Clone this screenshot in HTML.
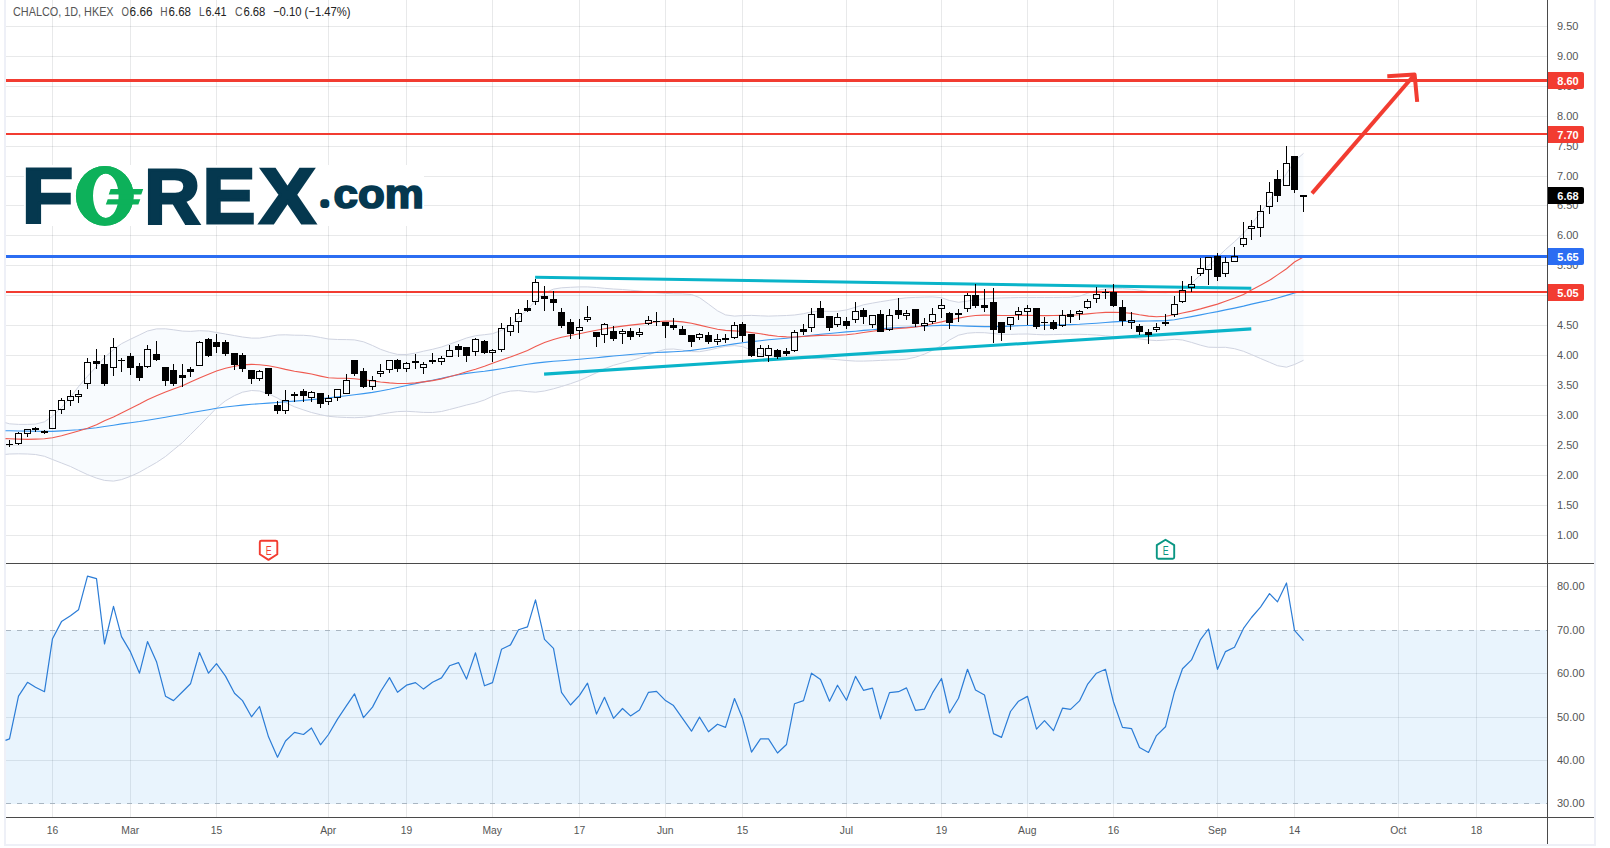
<!DOCTYPE html>
<html lang="en"><head><meta charset="utf-8"><title>CHALCO, 1D, HKEX</title>
<style>html,body{margin:0;padding:0;background:#fff}body{width:1610px;height:848px;overflow:hidden;font-family:"Liberation Sans", sans-serif}svg{display:block}</style>
</head><body>
<svg width="1610" height="848" viewBox="0 0 1610 848" font-family='"Liberation Sans", sans-serif'>
<rect width="1610" height="848" fill="#fff"/>
<g fill="#eef0f7"><rect x="4" y="0" width="2" height="846"/><rect x="1594" y="0" width="2" height="846"/><rect x="4" y="844" width="1592" height="2"/></g>
<g fill="#202530" fill-opacity="0.1" shape-rendering="crispEdges"><rect x="52" y="0" width="1" height="817"/><rect x="130" y="0" width="1" height="817"/><rect x="216" y="0" width="1" height="817"/><rect x="328" y="0" width="1" height="817"/><rect x="406" y="0" width="1" height="817"/><rect x="492" y="0" width="1" height="817"/><rect x="579" y="0" width="1" height="817"/><rect x="665" y="0" width="1" height="817"/><rect x="742" y="0" width="1" height="817"/><rect x="846" y="0" width="1" height="817"/><rect x="941" y="0" width="1" height="817"/><rect x="1027" y="0" width="1" height="817"/><rect x="1113" y="0" width="1" height="817"/><rect x="1217" y="0" width="1" height="817"/><rect x="1294" y="0" width="1" height="817"/><rect x="1398" y="0" width="1" height="817"/><rect x="1476" y="0" width="1" height="817"/><rect x="6" y="26" width="1541" height="1"/><rect x="6" y="56" width="1541" height="1"/><rect x="6" y="86" width="1541" height="1"/><rect x="6" y="116" width="1541" height="1"/><rect x="6" y="146" width="1541" height="1"/><rect x="6" y="176" width="1541" height="1"/><rect x="6" y="205" width="1541" height="1"/><rect x="6" y="235" width="1541" height="1"/><rect x="6" y="265" width="1541" height="1"/><rect x="6" y="295" width="1541" height="1"/><rect x="6" y="325" width="1541" height="1"/><rect x="6" y="355" width="1541" height="1"/><rect x="6" y="385" width="1541" height="1"/><rect x="6" y="415" width="1541" height="1"/><rect x="6" y="445" width="1541" height="1"/><rect x="6" y="475" width="1541" height="1"/><rect x="6" y="505" width="1541" height="1"/><rect x="6" y="535" width="1541" height="1"/><rect x="6" y="586" width="1541" height="1"/><rect x="6" y="673" width="1541" height="1"/><rect x="6" y="717" width="1541" height="1"/><rect x="6" y="760" width="1541" height="1"/></g>
<rect x="6" y="630" width="1541" height="174" fill="#1987eb" fill-opacity="0.095"/>
<line x1="6" x2="1547" y1="630.5" y2="630.5" stroke="#a9b6c2" stroke-width="1" stroke-dasharray="5 6" shape-rendering="crispEdges"/>
<line x1="6" x2="1547" y1="803.5" y2="803.5" stroke="#a9b6c2" stroke-width="1" stroke-dasharray="5 6" shape-rendering="crispEdges"/>
<polygon points="5.5,422.7 9.5,423.8 18.5,424.4 27.5,424.4 35.5,424.1 44.5,421.8 52.5,416.2 61.5,407.6 70.5,397.2 78.5,386.6 87.5,376.3 96.5,366.5 104.5,357.5 113.5,349.7 121.5,343.7 130.5,339.2 139.5,334.9 147.5,331.0 156.5,328.9 165.5,328.8 173.5,329.8 182.5,331.1 190.5,331.4 199.5,330.7 208.5,331.1 216.5,332.5 225.5,334.0 234.5,335.6 242.5,337.0 251.5,338.1 259.5,338.1 268.5,336.6 277.5,335.0 285.5,334.8 294.5,335.2 303.5,335.3 311.5,335.9 320.5,337.5 328.5,339.0 337.5,339.5 346.5,339.6 354.5,339.9 363.5,341.8 372.5,345.5 380.5,349.3 389.5,352.4 397.5,354.4 406.5,354.5 415.5,353.1 423.5,351.2 432.5,349.3 441.5,347.0 449.5,344.2 458.5,341.0 466.5,338.0 475.5,335.7 484.5,334.7 492.5,333.7 501.5,330.4 510.5,324.9 518.5,318.0 527.5,309.6 535.5,300.5 544.5,293.0 553.5,289.1 561.5,287.8 570.5,287.3 579.5,286.9 587.5,286.9 596.5,287.5 604.5,288.3 613.5,289.0 622.5,289.5 630.5,290.2 639.5,291.0 648.5,291.9 656.5,292.7 665.5,293.4 673.5,293.8 682.5,293.9 691.5,294.5 699.5,297.6 708.5,304.1 717.5,310.8 725.5,314.9 734.5,316.1 742.5,315.6 751.5,315.4 760.5,315.8 768.5,316.1 777.5,315.8 786.5,315.5 794.5,315.0 803.5,313.7 811.5,311.9 820.5,311.1 829.5,311.4 837.5,311.3 846.5,309.9 855.5,307.3 863.5,304.8 872.5,303.1 880.5,301.7 889.5,300.3 898.5,298.8 906.5,297.8 915.5,297.4 924.5,297.1 932.5,296.9 941.5,297.7 949.5,300.5 958.5,302.3 967.5,301.1 975.5,299.6 984.5,298.8 993.5,298.2 1001.5,297.9 1010.5,297.7 1018.5,297.5 1027.5,297.5 1036.5,297.5 1044.5,297.5 1053.5,297.5 1062.5,297.4 1070.5,297.3 1079.5,296.2 1087.5,293.3 1096.5,290.4 1105.5,289.0 1113.5,288.6 1122.5,288.6 1131.5,289.1 1139.5,290.2 1148.5,291.5 1156.5,292.5 1165.5,292.7 1174.5,292.0 1182.5,289.3 1191.5,283.3 1200.5,274.7 1208.5,265.7 1217.5,257.3 1225.5,249.5 1234.5,241.7 1243.5,233.3 1251.5,223.7 1260.5,212.6 1269.5,200.4 1277.5,187.3 1286.5,173.6 1294.5,161.2 1303.5,153.4 1303.5,360.3 1294.5,364.5 1286.5,367.2 1277.5,365.7 1269.5,362.3 1260.5,358.5 1251.5,354.6 1243.5,351.3 1234.5,348.7 1225.5,347.3 1217.5,347.4 1208.5,347.2 1200.5,345.2 1191.5,342.4 1182.5,340.0 1174.5,339.3 1165.5,340.1 1156.5,340.6 1148.5,340.0 1139.5,338.9 1131.5,338.0 1122.5,337.3 1113.5,336.6 1105.5,335.8 1096.5,335.0 1087.5,334.5 1079.5,334.3 1070.5,334.3 1062.5,334.4 1053.5,334.6 1044.5,334.8 1036.5,334.5 1027.5,334.0 1018.5,334.1 1010.5,334.4 1001.5,334.4 993.5,333.6 984.5,332.7 975.5,332.6 967.5,333.2 958.5,335.2 949.5,340.0 941.5,345.7 932.5,350.3 924.5,354.1 915.5,357.2 906.5,359.1 898.5,359.8 889.5,360.0 880.5,360.4 872.5,360.8 863.5,361.1 855.5,361.1 846.5,360.5 837.5,359.7 829.5,359.0 820.5,358.7 811.5,358.4 803.5,358.0 794.5,357.6 786.5,357.0 777.5,356.4 768.5,355.6 760.5,353.9 751.5,350.2 742.5,346.6 734.5,345.6 725.5,346.4 717.5,348.1 708.5,350.2 699.5,351.7 691.5,351.6 682.5,350.2 673.5,349.0 665.5,349.3 656.5,351.7 648.5,355.0 639.5,358.1 630.5,360.7 622.5,362.9 613.5,365.3 604.5,368.7 596.5,372.8 587.5,376.9 579.5,380.5 570.5,383.7 561.5,386.5 553.5,388.8 544.5,391.0 535.5,392.2 527.5,391.6 518.5,390.6 510.5,391.1 501.5,393.0 492.5,396.2 484.5,400.0 475.5,402.9 466.5,405.0 458.5,407.2 449.5,409.5 441.5,411.5 432.5,412.5 423.5,412.4 415.5,411.8 406.5,411.3 397.5,411.6 389.5,412.7 380.5,414.2 372.5,416.0 363.5,417.3 354.5,417.7 346.5,417.5 337.5,417.1 328.5,416.3 320.5,414.7 311.5,412.5 303.5,409.9 294.5,406.8 285.5,402.6 277.5,398.1 268.5,393.8 259.5,391.0 251.5,390.5 242.5,392.2 234.5,395.6 225.5,400.8 216.5,408.0 208.5,416.4 199.5,425.6 190.5,434.5 182.5,442.5 173.5,449.9 165.5,456.5 156.5,462.5 147.5,467.6 139.5,472.2 130.5,476.3 121.5,479.6 113.5,481.1 104.5,480.4 96.5,478.1 87.5,474.6 78.5,470.4 70.5,466.5 61.5,463.0 52.5,459.5 44.5,456.3 35.5,454.5 27.5,454.0 18.5,453.8 9.5,454.0 5.5,454.4" fill="#3b8fe0" fill-opacity="0.035"/>
<path d="M5.5,422.7 L9.5,423.8 L18.5,424.4 L27.5,424.4 L35.5,424.1 L44.5,421.8 L52.5,416.2 L61.5,407.6 L70.5,397.2 L78.5,386.6 L87.5,376.3 L96.5,366.5 L104.5,357.5 L113.5,349.7 L121.5,343.7 L130.5,339.2 L139.5,334.9 L147.5,331.0 L156.5,328.9 L165.5,328.8 L173.5,329.8 L182.5,331.1 L190.5,331.4 L199.5,330.7 L208.5,331.1 L216.5,332.5 L225.5,334.0 L234.5,335.6 L242.5,337.0 L251.5,338.1 L259.5,338.1 L268.5,336.6 L277.5,335.0 L285.5,334.8 L294.5,335.2 L303.5,335.3 L311.5,335.9 L320.5,337.5 L328.5,339.0 L337.5,339.5 L346.5,339.6 L354.5,339.9 L363.5,341.8 L372.5,345.5 L380.5,349.3 L389.5,352.4 L397.5,354.4 L406.5,354.5 L415.5,353.1 L423.5,351.2 L432.5,349.3 L441.5,347.0 L449.5,344.2 L458.5,341.0 L466.5,338.0 L475.5,335.7 L484.5,334.7 L492.5,333.7 L501.5,330.4 L510.5,324.9 L518.5,318.0 L527.5,309.6 L535.5,300.5 L544.5,293.0 L553.5,289.1 L561.5,287.8 L570.5,287.3 L579.5,286.9 L587.5,286.9 L596.5,287.5 L604.5,288.3 L613.5,289.0 L622.5,289.5 L630.5,290.2 L639.5,291.0 L648.5,291.9 L656.5,292.7 L665.5,293.4 L673.5,293.8 L682.5,293.9 L691.5,294.5 L699.5,297.6 L708.5,304.1 L717.5,310.8 L725.5,314.9 L734.5,316.1 L742.5,315.6 L751.5,315.4 L760.5,315.8 L768.5,316.1 L777.5,315.8 L786.5,315.5 L794.5,315.0 L803.5,313.7 L811.5,311.9 L820.5,311.1 L829.5,311.4 L837.5,311.3 L846.5,309.9 L855.5,307.3 L863.5,304.8 L872.5,303.1 L880.5,301.7 L889.5,300.3 L898.5,298.8 L906.5,297.8 L915.5,297.4 L924.5,297.1 L932.5,296.9 L941.5,297.7 L949.5,300.5 L958.5,302.3 L967.5,301.1 L975.5,299.6 L984.5,298.8 L993.5,298.2 L1001.5,297.9 L1010.5,297.7 L1018.5,297.5 L1027.5,297.5 L1036.5,297.5 L1044.5,297.5 L1053.5,297.5 L1062.5,297.4 L1070.5,297.3 L1079.5,296.2 L1087.5,293.3 L1096.5,290.4 L1105.5,289.0 L1113.5,288.6 L1122.5,288.6 L1131.5,289.1 L1139.5,290.2 L1148.5,291.5 L1156.5,292.5 L1165.5,292.7 L1174.5,292.0 L1182.5,289.3 L1191.5,283.3 L1200.5,274.7 L1208.5,265.7 L1217.5,257.3 L1225.5,249.5 L1234.5,241.7 L1243.5,233.3 L1251.5,223.7 L1260.5,212.6 L1269.5,200.4 L1277.5,187.3 L1286.5,173.6 L1294.5,161.2 L1303.5,153.4" fill="none" stroke="#d0d4e1" stroke-width="1"/>
<path d="M5.5,454.4 L9.5,454.0 L18.5,453.8 L27.5,454.0 L35.5,454.5 L44.5,456.3 L52.5,459.5 L61.5,463.0 L70.5,466.5 L78.5,470.4 L87.5,474.6 L96.5,478.1 L104.5,480.4 L113.5,481.1 L121.5,479.6 L130.5,476.3 L139.5,472.2 L147.5,467.6 L156.5,462.5 L165.5,456.5 L173.5,449.9 L182.5,442.5 L190.5,434.5 L199.5,425.6 L208.5,416.4 L216.5,408.0 L225.5,400.8 L234.5,395.6 L242.5,392.2 L251.5,390.5 L259.5,391.0 L268.5,393.8 L277.5,398.1 L285.5,402.6 L294.5,406.8 L303.5,409.9 L311.5,412.5 L320.5,414.7 L328.5,416.3 L337.5,417.1 L346.5,417.5 L354.5,417.7 L363.5,417.3 L372.5,416.0 L380.5,414.2 L389.5,412.7 L397.5,411.6 L406.5,411.3 L415.5,411.8 L423.5,412.4 L432.5,412.5 L441.5,411.5 L449.5,409.5 L458.5,407.2 L466.5,405.0 L475.5,402.9 L484.5,400.0 L492.5,396.2 L501.5,393.0 L510.5,391.1 L518.5,390.6 L527.5,391.6 L535.5,392.2 L544.5,391.0 L553.5,388.8 L561.5,386.5 L570.5,383.7 L579.5,380.5 L587.5,376.9 L596.5,372.8 L604.5,368.7 L613.5,365.3 L622.5,362.9 L630.5,360.7 L639.5,358.1 L648.5,355.0 L656.5,351.7 L665.5,349.3 L673.5,349.0 L682.5,350.2 L691.5,351.6 L699.5,351.7 L708.5,350.2 L717.5,348.1 L725.5,346.4 L734.5,345.6 L742.5,346.6 L751.5,350.2 L760.5,353.9 L768.5,355.6 L777.5,356.4 L786.5,357.0 L794.5,357.6 L803.5,358.0 L811.5,358.4 L820.5,358.7 L829.5,359.0 L837.5,359.7 L846.5,360.5 L855.5,361.1 L863.5,361.1 L872.5,360.8 L880.5,360.4 L889.5,360.0 L898.5,359.8 L906.5,359.1 L915.5,357.2 L924.5,354.1 L932.5,350.3 L941.5,345.7 L949.5,340.0 L958.5,335.2 L967.5,333.2 L975.5,332.6 L984.5,332.7 L993.5,333.6 L1001.5,334.4 L1010.5,334.4 L1018.5,334.1 L1027.5,334.0 L1036.5,334.5 L1044.5,334.8 L1053.5,334.6 L1062.5,334.4 L1070.5,334.3 L1079.5,334.3 L1087.5,334.5 L1096.5,335.0 L1105.5,335.8 L1113.5,336.6 L1122.5,337.3 L1131.5,338.0 L1139.5,338.9 L1148.5,340.0 L1156.5,340.6 L1165.5,340.1 L1174.5,339.3 L1182.5,340.0 L1191.5,342.4 L1200.5,345.2 L1208.5,347.2 L1217.5,347.4 L1225.5,347.3 L1234.5,348.7 L1243.5,351.3 L1251.5,354.6 L1260.5,358.5 L1269.5,362.3 L1277.5,365.7 L1286.5,367.2 L1294.5,364.5 L1303.5,360.3" fill="none" stroke="#d0d4e1" stroke-width="1"/>
<rect x="24" y="165" width="400" height="61" fill="#fff"/>
<defs><clipPath id="ringclip"><path d="M75.9,195.9a28.9,29.9 0 1 0 57.8,0a28.9,29.9 0 1 0 -57.8,0z M93,195.7a12.8,22.2 0 1 0 25.6,0a12.8,22.2 0 1 0 -25.6,0z" clip-rule="evenodd"/></clipPath></defs><g><text transform="matrix(0.8433 0 0 0.7869 21.81 223.00)" font-size="100" font-weight="bold" fill="#05384f" stroke="#05384f" stroke-width="3.0" stroke-linejoin="miter" vector-effect="non-scaling-stroke">F</text><g clip-path="url(#ringclip)"><text transform="matrix(0.8317 0 0 0.8452 72.57 224.95)" font-size="100" font-weight="bold" fill="#0db15a">O</text></g><text transform="matrix(0.7747 0 0 0.7869 144.27 223.00)" font-size="100" font-weight="bold" fill="#05384f" stroke="#05384f" stroke-width="3.0" stroke-linejoin="miter" vector-effect="non-scaling-stroke">R</text><text transform="matrix(0.7929 0 0 0.7869 202.45 223.00)" font-size="100" font-weight="bold" fill="#05384f" stroke="#05384f" stroke-width="3.0" stroke-linejoin="miter" vector-effect="non-scaling-stroke">E</text><text transform="matrix(0.8386 0 0 0.7869 259.46 223.00)" font-size="100" font-weight="bold" fill="#05384f" stroke="#05384f" stroke-width="3.0" stroke-linejoin="miter" vector-effect="non-scaling-stroke">X</text><text transform="matrix(0.1965 0 0 0.1867 322.07 205.20)" font-size="100" font-weight="bold" fill="#05384f" stroke="#05384f" stroke-width="6" stroke-linejoin="round" vector-effect="non-scaling-stroke">.</text><text transform="matrix(0.4394 0 0 0.4018 333.54 207.70)" font-size="100" font-weight="bold" fill="#05384f" stroke="#05384f" stroke-width="1.8" stroke-linejoin="miter" vector-effect="non-scaling-stroke">com</text></g><path d="M75.9,195.9a28.9,29.9 0 1 0 57.8,0a28.9,29.9 0 1 0 -57.8,0z M93,195.7a12.8,22.2 0 1 0 25.6,0a12.8,22.2 0 1 0 -25.6,0z" fill="#0db15a" fill-rule="evenodd"/><path d="M110.6,189h32.6l-1.9,5.4h-32.6z M107.7,199.2h32.6l-1.9,5.2h-32.6z" fill="#0db15a"/>
<path d="M5.5,430.7 L9.5,430.8 L18.5,431.0 L27.5,431.1 L35.5,431.3 L44.5,431.4 L52.5,431.4 L61.5,430.9 L70.5,430.3 L78.5,429.7 L87.5,428.8 L96.5,427.7 L104.5,426.5 L113.5,425.2 L121.5,423.9 L130.5,422.7 L139.5,421.5 L147.5,420.2 L156.5,418.8 L165.5,417.2 L173.5,415.7 L182.5,414.3 L190.5,412.8 L199.5,411.3 L208.5,409.7 L216.5,408.3 L225.5,407.0 L234.5,406.0 L242.5,405.1 L251.5,404.3 L259.5,403.7 L268.5,403.1 L277.5,402.5 L285.5,401.8 L294.5,401.1 L303.5,400.4 L311.5,399.6 L320.5,398.8 L328.5,397.9 L337.5,396.8 L346.5,395.7 L354.5,394.7 L363.5,393.6 L372.5,392.4 L380.5,391.0 L389.5,389.3 L397.5,387.5 L406.5,385.5 L415.5,383.6 L423.5,381.9 L432.5,380.2 L441.5,378.4 L449.5,376.5 L458.5,374.8 L466.5,373.4 L475.5,372.3 L484.5,371.3 L492.5,370.1 L501.5,368.7 L510.5,367.1 L518.5,365.7 L527.5,364.3 L535.5,363.1 L544.5,362.1 L553.5,361.3 L561.5,360.7 L570.5,360.0 L579.5,359.2 L587.5,358.5 L596.5,357.7 L604.5,356.9 L613.5,356.0 L622.5,355.2 L630.5,354.5 L639.5,353.8 L648.5,353.1 L656.5,352.5 L665.5,352.1 L673.5,351.7 L682.5,351.3 L691.5,350.4 L699.5,349.3 L708.5,348.0 L717.5,346.5 L725.5,345.2 L734.5,343.9 L742.5,342.7 L751.5,341.6 L760.5,340.7 L768.5,339.8 L777.5,339.0 L786.5,338.2 L794.5,337.3 L803.5,336.2 L811.5,335.2 L820.5,334.3 L829.5,333.5 L837.5,332.7 L846.5,331.9 L855.5,331.2 L863.5,330.4 L872.5,329.7 L880.5,328.9 L889.5,328.1 L898.5,327.6 L906.5,327.3 L915.5,326.8 L924.5,326.3 L932.5,325.7 L941.5,325.4 L949.5,325.4 L958.5,325.8 L967.5,326.1 L975.5,326.4 L984.5,326.6 L993.5,326.6 L1001.5,326.4 L1010.5,326.1 L1018.5,325.8 L1027.5,325.5 L1036.5,325.4 L1044.5,325.3 L1053.5,325.1 L1062.5,324.8 L1070.5,324.6 L1079.5,324.3 L1087.5,323.8 L1096.5,323.2 L1105.5,322.5 L1113.5,321.9 L1122.5,321.4 L1131.5,321.2 L1139.5,321.1 L1148.5,321.0 L1156.5,320.9 L1165.5,320.6 L1174.5,319.7 L1182.5,318.3 L1191.5,316.6 L1200.5,314.9 L1208.5,313.3 L1217.5,311.6 L1225.5,309.9 L1234.5,308.1 L1243.5,306.1 L1251.5,304.1 L1260.5,302.1 L1269.5,300.2 L1277.5,298.0 L1286.5,295.4 L1294.5,293.0 L1303.5,291.0" fill="none" stroke="#3a97ee" stroke-width="1.1"/>
<path d="M5.5,438.6 L9.5,438.8 L18.5,439.1 L27.5,439.4 L35.5,439.1 L44.5,438.7 L52.5,437.7 L61.5,435.7 L70.5,433.3 L78.5,431.0 L87.5,428.3 L96.5,424.7 L104.5,420.8 L113.5,416.9 L121.5,412.9 L130.5,408.6 L139.5,404.1 L147.5,399.7 L156.5,395.7 L165.5,392.1 L173.5,389.0 L182.5,385.8 L190.5,382.0 L199.5,377.9 L208.5,374.2 L216.5,370.9 L225.5,368.3 L234.5,366.2 L242.5,364.9 L251.5,364.4 L259.5,364.7 L268.5,365.8 L277.5,367.5 L285.5,369.4 L294.5,371.2 L303.5,372.6 L311.5,374.0 L320.5,376.1 L328.5,377.8 L337.5,378.3 L346.5,378.3 L354.5,378.8 L363.5,379.7 L372.5,380.9 L380.5,382.0 L389.5,382.9 L397.5,383.5 L406.5,383.5 L415.5,382.9 L423.5,381.9 L432.5,380.6 L441.5,378.9 L449.5,376.7 L458.5,374.3 L466.5,371.8 L475.5,369.2 L484.5,366.2 L492.5,363.2 L501.5,360.0 L510.5,356.9 L518.5,354.0 L527.5,350.6 L535.5,346.6 L544.5,342.6 L553.5,339.5 L561.5,337.3 L570.5,335.5 L579.5,333.7 L587.5,332.0 L596.5,330.3 L604.5,328.8 L613.5,327.4 L622.5,326.1 L630.5,325.1 L639.5,324.1 L648.5,323.0 L656.5,321.8 L665.5,321.1 L673.5,321.1 L682.5,321.9 L691.5,323.3 L699.5,325.1 L708.5,327.2 L717.5,329.2 L725.5,330.4 L734.5,330.9 L742.5,331.5 L751.5,332.6 L760.5,333.8 L768.5,335.1 L777.5,336.2 L786.5,336.9 L794.5,337.0 L803.5,336.5 L811.5,335.9 L820.5,335.4 L829.5,335.3 L837.5,335.2 L846.5,334.7 L855.5,333.8 L863.5,332.5 L872.5,331.2 L880.5,330.1 L889.5,329.2 L898.5,328.5 L906.5,327.9 L915.5,327.0 L924.5,325.7 L932.5,323.8 L941.5,321.9 L949.5,320.0 L958.5,318.1 L967.5,316.5 L975.5,315.5 L984.5,315.1 L993.5,315.3 L1001.5,315.5 L1010.5,315.5 L1018.5,315.4 L1027.5,315.3 L1036.5,315.5 L1044.5,315.6 L1053.5,315.5 L1062.5,315.4 L1070.5,315.2 L1079.5,314.7 L1087.5,313.9 L1096.5,313.0 L1105.5,312.4 L1113.5,312.2 L1122.5,312.5 L1131.5,313.4 L1139.5,314.8 L1148.5,316.1 L1156.5,316.8 L1165.5,316.2 L1174.5,314.8 L1182.5,313.0 L1191.5,311.1 L1200.5,308.9 L1208.5,306.6 L1217.5,304.1 L1225.5,301.3 L1234.5,298.1 L1243.5,294.4 L1251.5,290.1 L1260.5,285.3 L1269.5,280.3 L1277.5,274.9 L1286.5,268.7 L1294.5,262.0 L1303.5,257.1" fill="none" stroke="#ef5a50" stroke-width="1.1"/>
<g shape-rendering="crispEdges">
<rect x="6" y="79" width="1541" height="3" fill="#f23c31"/>
<rect x="6" y="133" width="1541" height="2" fill="#f23c31"/>
<rect x="6" y="255" width="1541" height="3" fill="#2b6df2"/>
<rect x="6" y="291" width="1541" height="2" fill="#f23c31"/>
</g>
<g stroke="#0ab4c9" stroke-width="3.1"><line x1="535.1" y1="277.3" x2="1251.3" y2="288.3"/><line x1="544.1" y1="374.1" x2="1251.3" y2="328.9"/></g>
<g fill="#000" shape-rendering="crispEdges"><rect x="9" y="440" width="1" height="7"/><rect x="6" y="444" width="7" height="1"/><rect x="18" y="432" width="1" height="1"/><rect x="18" y="444" width="1" height="1"/><path d="M15,433h7v11h-7z M16,434v9h5v-9z" fill-rule="evenodd"/><rect x="27" y="434" width="1" height="3"/><path d="M24,429h7v5h-7z M25,430v3h5v-3z" fill-rule="evenodd"/><rect x="35" y="427" width="1" height="5"/><rect x="32" y="428" width="7" height="2"/><rect x="44" y="430" width="1" height="4"/><rect x="41" y="431" width="7" height="2"/><path d="M49,410h7v19h-7z M50,411v17h5v-17z" fill-rule="evenodd"/><rect x="61" y="398" width="1" height="2"/><rect x="61" y="410" width="1" height="4"/><path d="M58,400h7v10h-7z M59,401v8h5v-8z" fill-rule="evenodd"/><rect x="70" y="390" width="1" height="6"/><rect x="70" y="401" width="1" height="5"/><path d="M67,396h7v5h-7z M68,397v3h5v-3z" fill-rule="evenodd"/><rect x="78" y="390" width="1" height="4"/><rect x="78" y="397" width="1" height="6"/><path d="M75,394h7v3h-7z M76,395v1h5v-1z" fill-rule="evenodd"/><rect x="87" y="358" width="1" height="4"/><rect x="87" y="384" width="1" height="5"/><path d="M84,362h7v22h-7z M85,363v20h5v-20z" fill-rule="evenodd"/><rect x="96" y="349" width="1" height="20"/><rect x="93" y="361" width="7" height="3"/><rect x="104" y="355" width="1" height="31"/><rect x="101" y="364" width="7" height="20"/><rect x="113" y="338" width="1" height="9"/><rect x="113" y="368" width="1" height="8"/><path d="M110,347h7v21h-7z M111,348v19h5v-19z" fill-rule="evenodd"/><rect x="121" y="358" width="1" height="14"/><rect x="118" y="360" width="7" height="1"/><rect x="130" y="353" width="1" height="22"/><rect x="127" y="356" width="7" height="12"/><rect x="139" y="363" width="1" height="18"/><rect x="136" y="366" width="7" height="12"/><rect x="147" y="345" width="1" height="4"/><rect x="147" y="367" width="1" height="1"/><path d="M144,349h7v18h-7z M145,350v16h5v-16z" fill-rule="evenodd"/><rect x="156" y="341" width="1" height="20"/><rect x="153" y="354" width="7" height="6"/><rect x="165" y="367" width="1" height="19"/><rect x="162" y="367" width="7" height="14"/><rect x="173" y="364" width="1" height="22"/><rect x="170" y="370" width="7" height="14"/><rect x="182" y="364" width="1" height="23"/><rect x="179" y="375" width="7" height="3"/><rect x="190" y="367" width="1" height="10"/><rect x="187" y="369" width="7" height="3"/><rect x="199" y="341" width="1" height="1"/><path d="M196,342h7v24h-7z M197,343v22h5v-22z" fill-rule="evenodd"/><rect x="208" y="338" width="1" height="19"/><rect x="205" y="339" width="7" height="17"/><rect x="216" y="334" width="1" height="19"/><rect x="213" y="342" width="7" height="5"/><rect x="225" y="340" width="1" height="16"/><rect x="222" y="342" width="7" height="12"/><rect x="234" y="353" width="1" height="17"/><rect x="231" y="353" width="7" height="12"/><rect x="242" y="353" width="1" height="19"/><rect x="239" y="355" width="7" height="14"/><rect x="251" y="370" width="1" height="14"/><rect x="248" y="370" width="7" height="9"/><rect x="259" y="370" width="1" height="1"/><rect x="259" y="379" width="1" height="2"/><path d="M256,371h7v8h-7z M257,372v6h5v-6z" fill-rule="evenodd"/><rect x="268" y="368" width="1" height="28"/><rect x="265" y="368" width="7" height="26"/><rect x="277" y="401" width="1" height="13"/><rect x="274" y="405" width="7" height="6"/><rect x="285" y="390" width="1" height="10"/><rect x="285" y="411" width="1" height="3"/><path d="M282,400h7v11h-7z M283,401v9h5v-9z" fill-rule="evenodd"/><rect x="294" y="392" width="1" height="10"/><rect x="291" y="394" width="7" height="2"/><rect x="303" y="389" width="1" height="13"/><rect x="300" y="391" width="7" height="5"/><rect x="311" y="391" width="1" height="1"/><rect x="311" y="398" width="1" height="4"/><path d="M308,392h7v6h-7z M309,393v4h5v-4z" fill-rule="evenodd"/><rect x="320" y="393" width="1" height="15"/><rect x="317" y="393" width="7" height="11"/><rect x="328" y="395" width="1" height="3"/><rect x="328" y="402" width="1" height="3"/><path d="M325,398h7v4h-7z M326,399v2h5v-2z" fill-rule="evenodd"/><rect x="337" y="398" width="1" height="3"/><path d="M334,389h7v9h-7z M335,390v7h5v-7z" fill-rule="evenodd"/><rect x="346" y="374" width="1" height="6"/><path d="M343,380h7v14h-7z M344,381v12h5v-12z" fill-rule="evenodd"/><rect x="354" y="360" width="1" height="16"/><rect x="351" y="360" width="7" height="14"/><rect x="363" y="368" width="1" height="20"/><rect x="360" y="371" width="7" height="16"/><rect x="372" y="376" width="1" height="4"/><rect x="372" y="387" width="1" height="3"/><path d="M369,380h7v7h-7z M370,381v5h5v-5z" fill-rule="evenodd"/><rect x="380" y="364" width="1" height="7"/><rect x="380" y="374" width="1" height="3"/><path d="M377,371h7v3h-7z M378,372v1h5v-1z" fill-rule="evenodd"/><rect x="389" y="370" width="1" height="3"/><path d="M386,360h7v10h-7z M387,361v8h5v-8z" fill-rule="evenodd"/><rect x="397" y="359" width="1" height="13"/><rect x="394" y="360" width="7" height="9"/><rect x="406" y="362" width="1" height="1"/><rect x="406" y="369" width="1" height="3"/><path d="M403,363h7v6h-7z M404,364v4h5v-4z" fill-rule="evenodd"/><rect x="415" y="354" width="1" height="15"/><rect x="412" y="361" width="7" height="2"/><rect x="423" y="362" width="1" height="2"/><rect x="423" y="368" width="1" height="6"/><path d="M420,364h7v4h-7z M421,365v2h5v-2z" fill-rule="evenodd"/><rect x="432" y="353" width="1" height="11"/><rect x="429" y="360" width="7" height="2"/><rect x="441" y="356" width="1" height="2"/><rect x="441" y="362" width="1" height="3"/><path d="M438,358h7v4h-7z M439,359v2h5v-2z" fill-rule="evenodd"/><rect x="449" y="345" width="1" height="5"/><path d="M446,350h7v7h-7z M447,351v5h5v-5z" fill-rule="evenodd"/><rect x="458" y="344" width="1" height="13"/><rect x="455" y="346" width="7" height="4"/><rect x="466" y="347" width="1" height="15"/><rect x="463" y="347" width="7" height="9"/><rect x="475" y="338" width="1" height="1"/><rect x="475" y="352" width="1" height="4"/><path d="M472,339h7v13h-7z M473,340v11h5v-11z" fill-rule="evenodd"/><rect x="484" y="340" width="1" height="14"/><rect x="481" y="341" width="7" height="12"/><rect x="492" y="349" width="1" height="1"/><rect x="492" y="353" width="1" height="9"/><path d="M489,350h7v3h-7z M490,351v1h5v-1z" fill-rule="evenodd"/><rect x="501" y="323" width="1" height="5"/><rect x="501" y="350" width="1" height="2"/><path d="M498,328h7v22h-7z M499,329v20h5v-20z" fill-rule="evenodd"/><rect x="510" y="317" width="1" height="8"/><rect x="510" y="332" width="1" height="4"/><path d="M507,325h7v7h-7z M508,326v5h5v-5z" fill-rule="evenodd"/><rect x="518" y="309" width="1" height="4"/><rect x="518" y="322" width="1" height="11"/><path d="M515,313h7v9h-7z M516,314v7h5v-7z" fill-rule="evenodd"/><rect x="527" y="300" width="1" height="12"/><rect x="524" y="308" width="7" height="3"/><rect x="535" y="279" width="1" height="3"/><rect x="535" y="302" width="1" height="3"/><path d="M532,282h7v20h-7z M533,283v18h5v-18z" fill-rule="evenodd"/><rect x="544" y="286" width="1" height="25"/><rect x="541" y="296" width="7" height="3"/><rect x="553" y="291" width="1" height="20"/><rect x="550" y="299" width="7" height="4"/><rect x="561" y="308" width="1" height="20"/><rect x="558" y="312" width="7" height="14"/><rect x="570" y="319" width="1" height="20"/><rect x="567" y="322" width="7" height="12"/><rect x="579" y="319" width="1" height="8"/><rect x="579" y="331" width="1" height="8"/><path d="M576,327h7v4h-7z M577,328v2h5v-2z" fill-rule="evenodd"/><rect x="587" y="306" width="1" height="11"/><rect x="587" y="320" width="1" height="2"/><path d="M584,317h7v3h-7z M585,318v1h5v-1z" fill-rule="evenodd"/><rect x="596" y="332" width="1" height="15"/><rect x="593" y="332" width="7" height="5"/><rect x="604" y="323" width="1" height="1"/><rect x="604" y="335" width="1" height="8"/><path d="M601,324h7v11h-7z M602,325v9h5v-9z" fill-rule="evenodd"/><rect x="613" y="326" width="1" height="15"/><rect x="610" y="331" width="7" height="8"/><rect x="622" y="329" width="1" height="2"/><rect x="622" y="334" width="1" height="10"/><path d="M619,331h7v3h-7z M620,332v1h5v-1z" fill-rule="evenodd"/><rect x="630" y="328" width="1" height="12"/><rect x="627" y="331" width="7" height="6"/><rect x="639" y="328" width="1" height="4"/><rect x="639" y="335" width="1" height="2"/><path d="M636,332h7v3h-7z M637,333v1h5v-1z" fill-rule="evenodd"/><rect x="648" y="316" width="1" height="4"/><rect x="648" y="324" width="1" height="1"/><path d="M645,320h7v4h-7z M646,321v2h5v-2z" fill-rule="evenodd"/><rect x="656" y="312" width="1" height="14"/><rect x="653" y="321" width="7" height="1"/><rect x="665" y="322" width="1" height="16"/><rect x="662" y="322" width="7" height="4"/><rect x="673" y="318" width="1" height="12"/><rect x="670" y="325" width="7" height="3"/><rect x="682" y="326" width="1" height="9"/><rect x="679" y="329" width="7" height="6"/><rect x="691" y="335" width="1" height="12"/><rect x="688" y="335" width="7" height="7"/><rect x="699" y="333" width="1" height="1"/><rect x="699" y="338" width="1" height="2"/><path d="M696,334h7v4h-7z M697,335v2h5v-2z" fill-rule="evenodd"/><rect x="708" y="332" width="1" height="12"/><rect x="705" y="335" width="7" height="7"/><rect x="717" y="334" width="1" height="5"/><rect x="717" y="342" width="1" height="3"/><path d="M714,339h7v3h-7z M715,340v1h5v-1z" fill-rule="evenodd"/><rect x="725" y="334" width="1" height="9"/><rect x="722" y="338" width="7" height="2"/><rect x="734" y="322" width="1" height="3"/><rect x="734" y="338" width="1" height="1"/><path d="M731,325h7v13h-7z M732,326v11h5v-11z" fill-rule="evenodd"/><rect x="742" y="322" width="1" height="20"/><rect x="739" y="324" width="7" height="12"/><rect x="751" y="334" width="1" height="23"/><rect x="748" y="334" width="7" height="22"/><rect x="760" y="345" width="1" height="3"/><path d="M757,348h7v9h-7z M758,349v7h5v-7z" fill-rule="evenodd"/><rect x="768" y="345" width="1" height="3"/><rect x="768" y="356" width="1" height="6"/><path d="M765,348h7v8h-7z M766,349v6h5v-6z" fill-rule="evenodd"/><rect x="777" y="349" width="1" height="10"/><rect x="774" y="350" width="7" height="7"/><rect x="786" y="348" width="1" height="8"/><rect x="783" y="351" width="7" height="3"/><rect x="794" y="330" width="1" height="2"/><rect x="794" y="351" width="1" height="1"/><path d="M791,332h7v19h-7z M792,333v17h5v-17z" fill-rule="evenodd"/><rect x="803" y="324" width="1" height="11"/><rect x="800" y="329" width="7" height="3"/><rect x="811" y="308" width="1" height="6"/><rect x="811" y="328" width="1" height="4"/><path d="M808,314h7v14h-7z M809,315v12h5v-12z" fill-rule="evenodd"/><rect x="820" y="301" width="1" height="17"/><rect x="817" y="308" width="7" height="10"/><rect x="829" y="316" width="1" height="15"/><rect x="826" y="316" width="7" height="12"/><rect x="837" y="313" width="1" height="4"/><rect x="837" y="325" width="1" height="2"/><path d="M834,317h7v8h-7z M835,318v6h5v-6z" fill-rule="evenodd"/><rect x="846" y="317" width="1" height="12"/><rect x="843" y="321" width="7" height="5"/><rect x="855" y="302" width="1" height="9"/><rect x="855" y="320" width="1" height="3"/><path d="M852,311h7v9h-7z M853,312v7h5v-7z" fill-rule="evenodd"/><rect x="863" y="308" width="1" height="16"/><rect x="860" y="310" width="7" height="7"/><rect x="872" y="325" width="1" height="3"/><path d="M869,315h7v10h-7z M870,316v8h5v-8z" fill-rule="evenodd"/><rect x="880" y="310" width="1" height="22"/><rect x="877" y="314" width="7" height="18"/><rect x="889" y="309" width="1" height="6"/><rect x="889" y="330" width="1" height="1"/><path d="M886,315h7v15h-7z M887,316v13h5v-13z" fill-rule="evenodd"/><rect x="898" y="298" width="1" height="21"/><rect x="895" y="310" width="7" height="5"/><rect x="906" y="310" width="1" height="3"/><rect x="906" y="316" width="1" height="4"/><path d="M903,313h7v3h-7z M904,314v1h5v-1z" fill-rule="evenodd"/><rect x="915" y="309" width="1" height="18"/><rect x="912" y="309" width="7" height="15"/><rect x="924" y="318" width="1" height="5"/><rect x="924" y="326" width="1" height="5"/><path d="M921,323h7v3h-7z M922,324v1h5v-1z" fill-rule="evenodd"/><rect x="932" y="308" width="1" height="6"/><rect x="932" y="322" width="1" height="2"/><path d="M929,314h7v8h-7z M930,315v6h5v-6z" fill-rule="evenodd"/><rect x="941" y="299" width="1" height="6"/><rect x="941" y="309" width="1" height="9"/><path d="M938,305h7v4h-7z M939,306v2h5v-2z" fill-rule="evenodd"/><rect x="949" y="312" width="1" height="17"/><rect x="946" y="313" width="7" height="10"/><rect x="958" y="309" width="1" height="13"/><rect x="955" y="313" width="7" height="2"/><rect x="967" y="293" width="1" height="2"/><rect x="967" y="309" width="1" height="3"/><path d="M964,295h7v14h-7z M965,296v12h5v-12z" fill-rule="evenodd"/><rect x="975" y="284" width="1" height="24"/><rect x="972" y="295" width="7" height="11"/><rect x="984" y="289" width="1" height="23"/><rect x="981" y="305" width="7" height="3"/><rect x="993" y="288" width="1" height="55"/><rect x="990" y="302" width="7" height="28"/><rect x="1001" y="322" width="1" height="19"/><rect x="998" y="322" width="7" height="11"/><rect x="1010" y="325" width="1" height="5"/><path d="M1007,317h7v8h-7z M1008,318v6h5v-6z" fill-rule="evenodd"/><rect x="1018" y="307" width="1" height="4"/><rect x="1018" y="315" width="1" height="5"/><path d="M1015,311h7v4h-7z M1016,312v2h5v-2z" fill-rule="evenodd"/><rect x="1027" y="305" width="1" height="3"/><rect x="1027" y="312" width="1" height="13"/><path d="M1024,308h7v4h-7z M1025,309v2h5v-2z" fill-rule="evenodd"/><rect x="1036" y="308" width="1" height="21"/><rect x="1033" y="308" width="7" height="19"/><rect x="1044" y="317" width="1" height="13"/><rect x="1041" y="322" width="7" height="1"/><rect x="1053" y="320" width="1" height="10"/><rect x="1050" y="322" width="7" height="7"/><rect x="1062" y="310" width="1" height="5"/><rect x="1062" y="326" width="1" height="1"/><path d="M1059,315h7v11h-7z M1060,316v9h5v-9z" fill-rule="evenodd"/><rect x="1070" y="310" width="1" height="13"/><rect x="1067" y="314" width="7" height="3"/><rect x="1079" y="310" width="1" height="1"/><rect x="1079" y="314" width="1" height="6"/><path d="M1076,311h7v3h-7z M1077,312v1h5v-1z" fill-rule="evenodd"/><rect x="1087" y="299" width="1" height="2"/><rect x="1087" y="308" width="1" height="1"/><path d="M1084,301h7v7h-7z M1085,302v5h5v-5z" fill-rule="evenodd"/><rect x="1096" y="287" width="1" height="7"/><rect x="1096" y="299" width="1" height="4"/><path d="M1093,294h7v5h-7z M1094,295v3h5v-3z" fill-rule="evenodd"/><rect x="1105" y="289" width="1" height="10"/><rect x="1102" y="292" width="7" height="1"/><rect x="1113" y="284" width="1" height="23"/><rect x="1110" y="292" width="7" height="14"/><rect x="1122" y="300" width="1" height="26"/><rect x="1119" y="307" width="7" height="14"/><rect x="1131" y="312" width="1" height="8"/><rect x="1131" y="323" width="1" height="6"/><path d="M1128,320h7v3h-7z M1129,321v1h5v-1z" fill-rule="evenodd"/><rect x="1139" y="324" width="1" height="11"/><rect x="1136" y="326" width="7" height="6"/><rect x="1148" y="329" width="1" height="15"/><rect x="1145" y="332" width="7" height="3"/><rect x="1156" y="323" width="1" height="4"/><rect x="1156" y="330" width="1" height="2"/><path d="M1153,327h7v3h-7z M1154,328v1h5v-1z" fill-rule="evenodd"/><rect x="1165" y="314" width="1" height="12"/><rect x="1162" y="322" width="7" height="2"/><rect x="1174" y="296" width="1" height="8"/><rect x="1174" y="315" width="1" height="2"/><path d="M1171,304h7v11h-7z M1172,305v9h5v-9z" fill-rule="evenodd"/><rect x="1182" y="281" width="1" height="9"/><rect x="1182" y="302" width="1" height="1"/><path d="M1179,290h7v12h-7z M1180,291v10h5v-10z" fill-rule="evenodd"/><rect x="1191" y="276" width="1" height="8"/><rect x="1191" y="288" width="1" height="4"/><path d="M1188,284h7v4h-7z M1189,285v2h5v-2z" fill-rule="evenodd"/><rect x="1200" y="258" width="1" height="10"/><rect x="1200" y="274" width="1" height="2"/><path d="M1197,268h7v6h-7z M1198,269v4h5v-4z" fill-rule="evenodd"/><rect x="1208" y="270" width="1" height="15"/><path d="M1205,257h7v13h-7z M1206,258v11h5v-11z" fill-rule="evenodd"/><rect x="1217" y="253" width="1" height="28"/><rect x="1214" y="256" width="7" height="21"/><rect x="1225" y="257" width="1" height="5"/><rect x="1225" y="274" width="1" height="3"/><path d="M1222,262h7v12h-7z M1223,263v10h5v-10z" fill-rule="evenodd"/><rect x="1234" y="247" width="1" height="9"/><path d="M1231,256h7v6h-7z M1232,257v4h5v-4z" fill-rule="evenodd"/><rect x="1243" y="222" width="1" height="16"/><rect x="1243" y="245" width="1" height="2"/><path d="M1240,238h7v7h-7z M1241,239v5h5v-5z" fill-rule="evenodd"/><rect x="1251" y="220" width="1" height="6"/><rect x="1251" y="229" width="1" height="11"/><path d="M1248,226h7v3h-7z M1249,227v1h5v-1z" fill-rule="evenodd"/><rect x="1260" y="205" width="1" height="6"/><rect x="1260" y="228" width="1" height="9"/><path d="M1257,211h7v17h-7z M1258,212v15h5v-15z" fill-rule="evenodd"/><rect x="1269" y="182" width="1" height="10"/><rect x="1269" y="207" width="1" height="7"/><path d="M1266,192h7v15h-7z M1267,193v13h5v-13z" fill-rule="evenodd"/><rect x="1277" y="170" width="1" height="32"/><rect x="1274" y="179" width="7" height="17"/><rect x="1286" y="146" width="1" height="17"/><path d="M1283,163h7v23h-7z M1284,164v21h5v-21z" fill-rule="evenodd"/><rect x="1294" y="156" width="1" height="37"/><rect x="1291" y="156" width="7" height="34"/><rect x="1303" y="195" width="1" height="17"/><rect x="1300" y="195" width="7" height="2"/></g>
<g stroke="#f23c31" stroke-width="4" fill="none" stroke-linecap="butt" stroke-linejoin="round"><line x1="1312" y1="193.4" x2="1413.8" y2="75.5"/><polyline points="1387.3,76.3 1414.6,74.6 1417.2,101.9"/></g>
<path d="M5.5,740.4 L9.5,738.9 L18.5,696.2 L27.5,682.3 L35.5,687.3 L44.5,691.7 L52.5,638.7 L61.5,621.6 L70.5,615.7 L78.5,609.8 L87.5,576.2 L96.5,578.6 L104.5,644.0 L113.5,606.3 L121.5,636.6 L130.5,651.9 L139.5,673.2 L147.5,641.6 L156.5,661.7 L165.5,696.2 L173.5,700.6 L182.5,691.7 L190.5,683.8 L199.5,652.5 L208.5,673.2 L216.5,663.7 L225.5,676.1 L234.5,693.2 L242.5,700.6 L251.5,716.8 L259.5,706.5 L268.5,736.8 L277.5,757.2 L285.5,741.0 L294.5,732.4 L303.5,734.5 L311.5,728.0 L320.5,744.8 L328.5,734.5 L337.5,719.1 L346.5,705.6 L354.5,693.8 L363.5,717.7 L372.5,707.1 L380.5,691.7 L389.5,677.6 L397.5,692.3 L406.5,685.2 L415.5,682.6 L423.5,689.1 L432.5,682.3 L441.5,677.9 L449.5,665.8 L458.5,662.6 L466.5,679.1 L475.5,652.8 L484.5,685.8 L492.5,682.6 L501.5,649.3 L510.5,644.9 L518.5,629.8 L527.5,626.9 L535.5,599.8 L544.5,639.3 L553.5,648.4 L561.5,692.3 L570.5,705.0 L579.5,695.3 L587.5,683.2 L596.5,714.1 L604.5,697.3 L613.5,718.3 L622.5,708.5 L630.5,715.9 L639.5,710.0 L648.5,692.3 L656.5,691.4 L665.5,700.6 L673.5,705.6 L682.5,718.3 L691.5,731.2 L699.5,717.1 L708.5,731.8 L717.5,724.2 L725.5,727.4 L734.5,698.5 L742.5,718.3 L751.5,752.2 L760.5,738.9 L768.5,738.9 L777.5,753.0 L786.5,744.5 L794.5,703.8 L803.5,700.6 L811.5,673.2 L820.5,679.6 L829.5,701.2 L837.5,685.2 L846.5,700.3 L855.5,676.4 L863.5,690.3 L872.5,688.2 L880.5,718.8 L889.5,692.6 L898.5,691.7 L906.5,687.9 L915.5,710.3 L924.5,709.1 L932.5,692.9 L941.5,678.5 L949.5,713.0 L958.5,698.2 L967.5,669.3 L975.5,690.0 L984.5,695.0 L993.5,733.6 L1001.5,737.4 L1010.5,711.5 L1018.5,701.2 L1027.5,696.4 L1036.5,729.2 L1044.5,720.6 L1053.5,730.6 L1062.5,708.2 L1070.5,709.4 L1079.5,700.9 L1087.5,684.4 L1096.5,673.2 L1105.5,669.3 L1113.5,702.0 L1122.5,727.4 L1131.5,728.6 L1139.5,747.4 L1148.5,752.4 L1156.5,735.6 L1165.5,726.8 L1174.5,691.7 L1182.5,668.7 L1191.5,659.9 L1200.5,639.6 L1208.5,629.0 L1217.5,669.3 L1225.5,651.6 L1234.5,647.2 L1243.5,628.4 L1251.5,617.5 L1260.5,607.1 L1269.5,593.6 L1277.5,601.8 L1286.5,583.0 L1294.5,630.4 L1303.5,640.7" fill="none" stroke="#2b7cd6" stroke-width="1.2" stroke-linejoin="round"/>
<g fill="none" stroke-width="1.9" stroke-linejoin="round"><path d="M261.3,540.8H275.8a1.5,1.5 0 0 1 1.5,1.5V554.3L268.5,559.9L259.8,554.3V542.3a1.5,1.5 0 0 1 1.5,-1.5Z" stroke="#f23c31"/><path d="M1158.3,558.8H1172.7a1.5,1.5 0 0 0 1.5,-1.5V545.1L1165.5,539.8L1156.8,545.1V557.3a1.5,1.5 0 0 0 1.5,1.5Z" stroke="#0a9683"/></g>
<text x="268.6" y="554.8" font-size="12" text-anchor="middle" fill="#f23c31" textLength="5.9" lengthAdjust="spacingAndGlyphs">E</text>
<text x="1165.7" y="554.8" font-size="12" text-anchor="middle" fill="#0a9683" textLength="5.9" lengthAdjust="spacingAndGlyphs">E</text>
<g fill="#4a4a4a" shape-rendering="crispEdges"><rect x="6" y="563" width="1588" height="1"/><rect x="6" y="817" width="1588" height="1"/><rect x="1547" y="0" width="1" height="844"/></g>
<g font-size="11" fill="#555"><text x="1557" y="30.4">9.50</text><text x="1557" y="60.4">9.00</text><text x="1557" y="90.4">8.50</text><text x="1557" y="120.4">8.00</text><text x="1557" y="150.4">7.50</text><text x="1557" y="180.4">7.00</text><text x="1557" y="209.4">6.50</text><text x="1557" y="239.4">6.00</text><text x="1557" y="269.4">5.50</text><text x="1557" y="299.4">5.00</text><text x="1557" y="329.4">4.50</text><text x="1557" y="359.4">4.00</text><text x="1557" y="389.4">3.50</text><text x="1557" y="419.4">3.00</text><text x="1557" y="449.4">2.50</text><text x="1557" y="479.4">2.00</text><text x="1557" y="509.4">1.50</text><text x="1557" y="539.4">1.00</text><text x="1557" y="590.4">80.00</text><text x="1557" y="634.2">70.00</text><text x="1557" y="677.4">60.00</text><text x="1557" y="721.1">50.00</text><text x="1557" y="764.2">40.00</text><text x="1557" y="807.3">30.00</text></g>
<g font-size="11" fill="#555"><text x="46.7" y="833.6" textLength="11.5" lengthAdjust="spacingAndGlyphs">16</text><text x="121.3" y="833.6" textLength="17.8" lengthAdjust="spacingAndGlyphs">Mar</text><text x="210.7" y="833.6" textLength="11.5" lengthAdjust="spacingAndGlyphs">15</text><text x="320.2" y="833.6" textLength="16.1" lengthAdjust="spacingAndGlyphs">Apr</text><text x="400.7" y="833.6" textLength="11.5" lengthAdjust="spacingAndGlyphs">19</text><text x="482.4" y="833.6" textLength="19.5" lengthAdjust="spacingAndGlyphs">May</text><text x="573.7" y="833.6" textLength="11.5" lengthAdjust="spacingAndGlyphs">17</text><text x="656.9" y="833.6" textLength="16.7" lengthAdjust="spacingAndGlyphs">Jun</text><text x="736.7" y="833.6" textLength="11.5" lengthAdjust="spacingAndGlyphs">15</text><text x="839.8" y="833.6" textLength="13.2" lengthAdjust="spacingAndGlyphs">Jul</text><text x="935.7" y="833.6" textLength="11.5" lengthAdjust="spacingAndGlyphs">19</text><text x="1018.0" y="833.6" textLength="18.4" lengthAdjust="spacingAndGlyphs">Aug</text><text x="1107.7" y="833.6" textLength="11.5" lengthAdjust="spacingAndGlyphs">16</text><text x="1208.0" y="833.6" textLength="18.4" lengthAdjust="spacingAndGlyphs">Sep</text><text x="1288.7" y="833.6" textLength="11.5" lengthAdjust="spacingAndGlyphs">14</text><text x="1390.2" y="833.6" textLength="16.1" lengthAdjust="spacingAndGlyphs">Oct</text><text x="1470.7" y="833.6" textLength="11.5" lengthAdjust="spacingAndGlyphs">18</text></g>
<path d="M1548,72h34a2,2 0 0 1 2,2v13a2,2 0 0 1 -2,2h-34z" fill="#f23c31"/><text x="1568" y="84.6" font-size="11" font-weight="bold" fill="#fff" text-anchor="middle">8.60</text>
<path d="M1548,126h34a2,2 0 0 1 2,2v13a2,2 0 0 1 -2,2h-34z" fill="#f23c31"/><text x="1568" y="138.6" font-size="11" font-weight="bold" fill="#fff" text-anchor="middle">7.70</text>
<path d="M1548,187h34a2,2 0 0 1 2,2v13a2,2 0 0 1 -2,2h-34z" fill="#000"/><text x="1568" y="199.6" font-size="11" font-weight="bold" fill="#fff" text-anchor="middle">6.68</text>
<path d="M1548,248h34a2,2 0 0 1 2,2v13a2,2 0 0 1 -2,2h-34z" fill="#2b6df2"/><text x="1568" y="260.6" font-size="11" font-weight="bold" fill="#fff" text-anchor="middle">5.65</text>
<path d="M1548,284h34a2,2 0 0 1 2,2v13a2,2 0 0 1 -2,2h-34z" fill="#f23c31"/><text x="1568" y="296.6" font-size="11" font-weight="bold" fill="#fff" text-anchor="middle">5.05</text>
<g font-size="12.5"><text x="13" y="16" fill="#555" textLength="100.6" lengthAdjust="spacingAndGlyphs">CHALCO, 1D, HKEX</text><text x="121.4" y="16" fill="#555" textLength="7.4" lengthAdjust="spacingAndGlyphs">O</text><text x="129.6" y="16" fill="#222" textLength="22.9" lengthAdjust="spacingAndGlyphs">6.66</text><text x="160.3" y="16" fill="#555" textLength="7.3" lengthAdjust="spacingAndGlyphs">H</text><text x="168.6" y="16" fill="#222" textLength="22.4" lengthAdjust="spacingAndGlyphs">6.68</text><text x="199" y="16" fill="#555" textLength="5.6" lengthAdjust="spacingAndGlyphs">L</text><text x="205.4" y="16" fill="#222" textLength="21.1" lengthAdjust="spacingAndGlyphs">6.41</text><text x="235" y="16" fill="#555" textLength="7.6" lengthAdjust="spacingAndGlyphs">C</text><text x="243.4" y="16" fill="#222" textLength="22.0" lengthAdjust="spacingAndGlyphs">6.68</text><text x="273" y="16" fill="#222" textLength="77.6" lengthAdjust="spacingAndGlyphs">−0.10 (−1.47%)</text></g>
</svg>
</body></html>
